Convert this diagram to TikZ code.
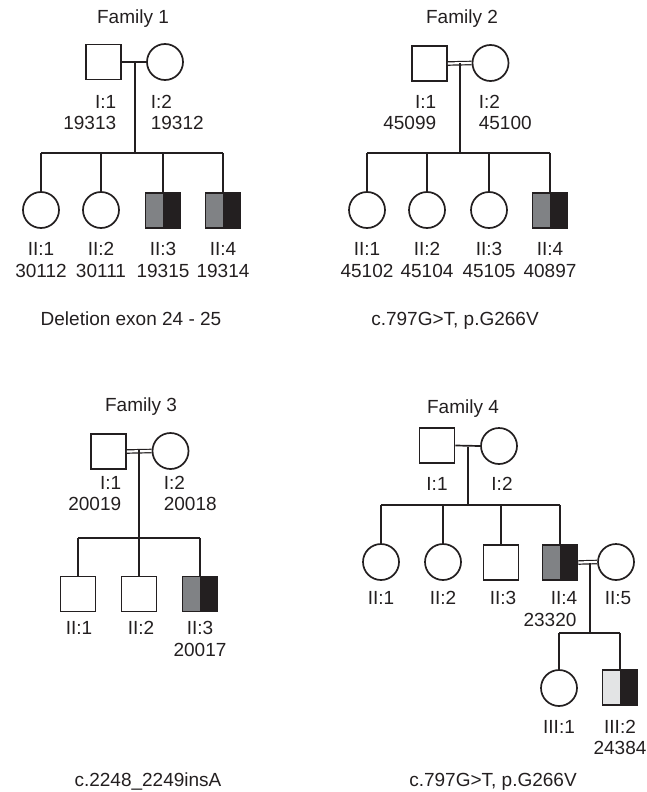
\documentclass[tikz,border=0pt]{standalone}
\usepackage{fontspec}
\setmainfont{Liberation Sans}
\definecolor{midgray}{HTML}{808285}
\definecolor{darkfill}{HTML}{231F20}
\definecolor{lightfill}{HTML}{E3E4E5}
\definecolor{linecol}{HTML}{231F20}
\begin{document}
\begin{tikzpicture}[x=1pt,y=-1pt, line width=1.7pt, draw=linecol,
  male/.style={draw=linecol, rectangle, minimum width=35pt, minimum height=35pt, inner sep=0pt, line width=1.7pt},
  female/.style={draw=linecol, circle, minimum size=36pt, inner sep=0pt, line width=1.7pt},
  affm/.style={male, path picture={
     \fill[midgray] (path picture bounding box.south west) rectangle (path picture bounding box.north);
     \fill[darkfill] (path picture bounding box.south) rectangle (path picture bounding box.north east);}},
  affl/.style={male, path picture={
     \fill[lightfill] (path picture bounding box.south west) rectangle (path picture bounding box.north);
     \fill[darkfill] (path picture bounding box.south) rectangle (path picture bounding box.north east);}},
  txt/.style={inner sep=0pt, anchor=base, font=\fontsize{19}{22}\selectfont, text=linecol},
  txtr/.style={txt, anchor=base east},
  txtl/.style={txt, anchor=base west},
  link/.style={draw=linecol, line width=1.7pt},
  cons/.style={draw=linecol, double=white, double distance=2.2pt, line width=1.2pt}
]
\path[use as bounding box] (0,0) rectangle (647,792);

% ---------------- Family 1 ----------------
\node[txt] (f1t) at (133,24) {Family 1};
\node[male] (f1a) at (103.5,62) {};
\node[female] (f1b) at (165,62) {};
\coordinate (f1m) at (135,62);
\coordinate (f1s) at (135,153);
\draw[link] (f1a.east) -- (f1b.west);
\draw[link] (f1m) -- (f1s);
\node[txtr] (f1al) at (117,108.6) {I:1};
\node[txtr] (f1an) at (117,129.6) {19313};
\node[txtl] (f1bl) at (150,108.6) {I:2};
\node[txtl] (f1bn) at (150,129.6) {19312};
\node[female] (f1c1) at (41,210) {};
\node[female] (f1c2) at (101,210) {};
\node[affm] (f1c3) at (163,210.5) {};
\node[affm] (f1c4) at (223,210.5) {};
\draw[link] (f1c1 |- f1s) -- (f1c4 |- f1s);
\foreach \c in {f1c1,f1c2,f1c3,f1c4} \draw[link] (\c |- f1s) -- (\c.north);
\node[txt] at (41,255.6) {II:1};
\node[txt] at (41,277.6) {30112};
\node[txt] at (101,255.6) {II:2};
\node[txt] at (101,277.6) {30111};
\node[txt] at (163,255.6) {II:3};
\node[txt] at (163,277.6) {19315};
\node[txt] at (223,255.6) {II:4};
\node[txt] at (223,277.6) {19314};
\node[txt] (f1cap) at (131,325.6) {Deletion exon 24 - 25};

% ---------------- Family 2 ----------------
\node[txt] (f2t) at (462,24) {Family 2};
\node[male] (f2a) at (429.5,63.5) {};
\node[female] (f2b) at (490.5,63) {};
\coordinate (f2m) at (460,63);
\coordinate (f2s) at (460,153);
\draw[cons] (f2a.east) -- (f2b.west);
\draw[link] (f2m) -- (f2s);
\node[txtr] (f2al) at (437,108.6) {I:1};
\node[txtr] (f2an) at (437,129.6) {45099};
\node[txtl] (f2bl) at (478,108.6) {I:2};
\node[txtl] (f2bn) at (478,129.6) {45100};
\node[female] (f2c1) at (367,210) {};
\node[female] (f2c2) at (427,210) {};
\node[female] (f2c3) at (489,210) {};
\node[affm] (f2c4) at (550,210.5) {};
\draw[link] (f2c1 |- f2s) -- (f2c4 |- f2s);
\foreach \c in {f2c1,f2c2,f2c3,f2c4} \draw[link] (\c |- f2s) -- (\c.north);
\node[txt] at (367,255.6) {II:1};
\node[txt] at (367,277.6) {45102};
\node[txt] at (427,255.6) {II:2};
\node[txt] at (427,277.6) {45104};
\node[txt] at (489,255.6) {II:3};
\node[txt] at (489,277.6) {45105};
\node[txt] at (550,255.6) {II:4};
\node[txt] at (550,277.6) {40897};
\node[txt] (f2cap) at (455,325.6) {c.797G>T, p.G266V};

% ---------------- Family 3 ----------------
\node[txt] (f3t) at (141,411.6) {Family 3};
\node[male] (f3a) at (108.5,451.5) {};
\node[female] (f3b) at (170.5,451) {};
\coordinate (f3m) at (139,450);
\coordinate (f3s) at (139,538);
\draw[cons] (f3a.east) -- (f3b.west);
\draw[link] (f3m) -- (f3s);
\node[txtr] (f3al) at (122,489.6) {I:1};
\node[txtr] (f3an) at (122,510.6) {20019};
\node[txtl] (f3bl) at (163,489.6) {I:2};
\node[txtl] (f3bn) at (163,510.6) {20018};
\node[male] (f3c1) at (78,594) {};
\node[male] (f3c2) at (139,594) {};
\node[affm] (f3c3) at (200,594) {};
\draw[link] (f3c1 |- f3s) -- (f3c3 |- f3s);
\foreach \c in {f3c1,f3c2,f3c3} \draw[link] (\c |- f3s) -- (\c.north);
\node[txt] at (79,634.6) {II:1};
\node[txt] at (141,634.6) {II:2};
\node[txt] at (200,634.6) {II:3};
\node[txt] at (200,656.6) {20017};
\node[txt] (f3cap) at (148,786.6) {c.2248\_2249insA};

% ---------------- Family 4 ----------------
\node[txt] (f4t) at (463,413.6) {Family 4};
\node[male] (f4a) at (437,445.5) {};
\node[female] (f4b) at (499,446) {};
\coordinate (f4m) at (468,447);
\coordinate (f4s) at (468,505);
\draw[link] (f4a.east) -- (f4b.west);
\draw[link] (f4m) -- (f4s);
\node[txt] (f4al) at (437,490.6) {I:1};
\node[txt] (f4bl) at (502,490.6) {I:2};
\node[female] (f4c1) at (381,562) {};
\node[female] (f4c2) at (443,562) {};
\node[male] (f4c3) at (501,562.5) {};
\node[affm] (f4c4) at (560,562.5) {};
\node[female] (f4c5) at (616,562) {};
\draw[link] (f4c1 |- f4s) -- (f4c4 |- f4s);
\foreach \c in {f4c1,f4c2,f4c3,f4c4} \draw[link] (\c |- f4s) -- (\c.north);
\node[txt] at (381,604.6) {II:1};
\node[txt] at (443,604.6) {II:2};
\node[txt] at (503,604.6) {II:3};
\node[txt] at (564,604.6) {II:4};
\node[txt] at (550,626.6) {23320};
\node[txt] at (618,604.6) {II:5};
\coordinate (f4m2) at (590,563);
\coordinate (f4s2) at (590,633);
\draw[cons] (f4c4.east) -- (f4c5.west);
\draw[link] (f4m2) -- (f4s2);
\node[female] (f4d1) at (559,688) {};
\node[affl] (f4d2) at (620,687.5) {};
\draw[link] (f4d1 |- f4s2) -- (f4d2 |- f4s2);
\foreach \c in {f4d1,f4d2} \draw[link] (\c |- f4s2) -- (\c.north);
\node[txt] at (559,733.6) {III:1};
\node[txt] at (620,733.6) {III:2};
\node[txt] at (620,754.6) {24384};
\node[txt] (f4cap) at (493,786.6) {c.797G>T, p.G266V};
\end{tikzpicture}
\end{document}
